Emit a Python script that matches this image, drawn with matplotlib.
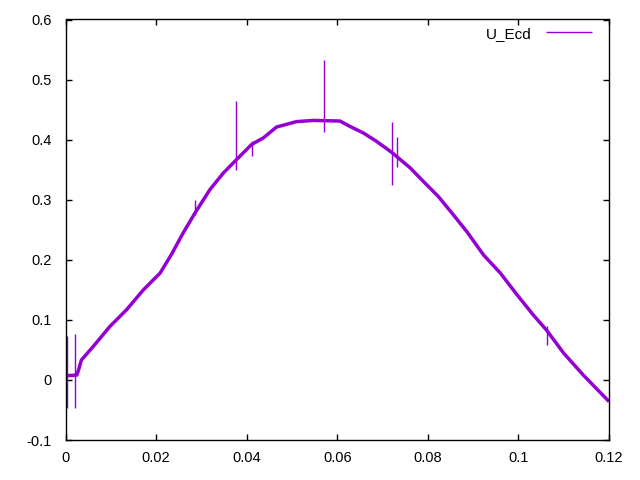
import numpy as np
import matplotlib
matplotlib.use("Agg")
import matplotlib.pyplot as plt
from matplotlib.ticker import FuncFormatter

plt.rcParams["font.family"] = ["Liberation Sans", "DejaVu Sans"]

# ---------- data ----------
curve_x = [0.0, 0.0025, 0.0029, 0.0035, 0.0061, 0.0098, 0.0135, 0.0172, 0.0209,
           0.0234, 0.026, 0.0286, 0.0319, 0.0348, 0.0374, 0.0411, 0.0437, 0.0466,
           0.051, 0.0547, 0.0606, 0.0628, 0.0658, 0.0687, 0.072, 0.0761, 0.079,
           0.0823, 0.0853, 0.0886, 0.0923, 0.096, 0.0997, 0.1033, 0.1062, 0.11,
           0.1143, 0.12]
curve_y = [0.007, 0.008, 0.017, 0.033, 0.0555, 0.089, 0.117, 0.15, 0.178,
           0.209, 0.245, 0.278, 0.317, 0.344, 0.364, 0.392, 0.403, 0.421,
           0.430, 0.432, 0.431, 0.422, 0.411, 0.397, 0.379, 0.353, 0.3305,
           0.3055, 0.278, 0.247, 0.208, 0.178, 0.1417, 0.108, 0.083, 0.0445,
           0.0083, -0.036]

# spikes: position, low end, high end
spike_x = [0.0003, 0.0021, 0.0286, 0.0377, 0.0411, 0.0571, 0.072, 0.0731, 0.1064]
spike_lo = [-0.047, -0.047, 0.275, 0.35, 0.372, 0.412, 0.325, 0.355, 0.058]
spike_hi = [0.073, 0.077, 0.30, 0.464, 0.397, 0.533, 0.429, 0.4045, 0.09]

x_ticks = [0, 0.02, 0.04, 0.06, 0.08, 0.1, 0.12]
y_ticks = [-0.1, 0, 0.1, 0.2, 0.3, 0.4, 0.5, 0.6]

COLOR = "#9400d3"

# ---------- plot ----------
fig = plt.figure(figsize=(6.4, 4.8), dpi=100)
ax = fig.add_axes([65.5 / 640, 40 / 480, (609 - 65.5) / 640, (440 - 19.5) / 480])

ax.plot(curve_x, curve_y, color=COLOR, lw=2.5, solid_capstyle="butt",
        label="U_Ecd")
ax.vlines(spike_x, spike_lo, spike_hi, color=COLOR, lw=1.0)

ax.set_xlim(0, 0.12)
ax.set_ylim(-0.1, 0.6)
ax.set_xticks(x_ticks)
ax.set_yticks(y_ticks)
fmt = FuncFormatter(lambda v, _: "%g" % round(v, 6))
ax.xaxis.set_major_formatter(fmt)
ax.yaxis.set_major_formatter(fmt)

ax.tick_params(direction="in", length=4.5, width=1, top=True, right=True,
               labelsize=10.5, colors="black")
ax.tick_params(axis="x", pad=8)
ax.tick_params(axis="y", pad=10)
for s in ax.spines.values():
    s.set_linewidth(1)
    s.set_color("black")

leg = ax.legend(loc="upper right", frameon=False, markerfirst=False,
                handlelength=3.0, handletextpad=0.9, fontsize=11,
                bbox_to_anchor=(0.985, 1.005), borderaxespad=0.2)
for h in leg.legend_handles:
    h.set_linewidth(1.0)

fig.savefig("out.png", dpi=100)
